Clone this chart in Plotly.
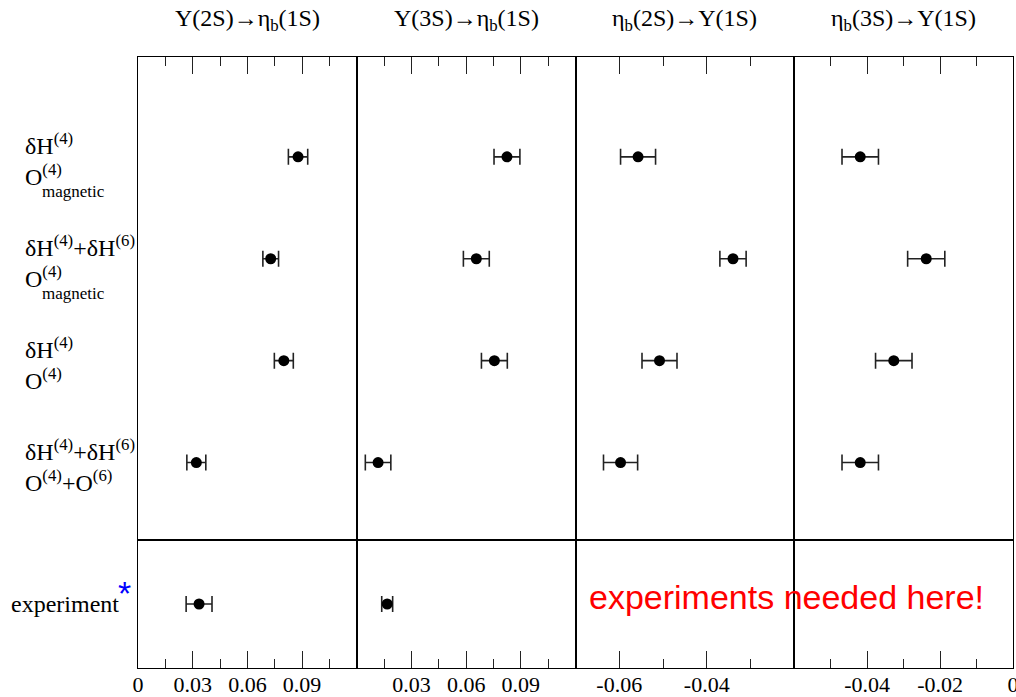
import plotly.graph_objects as go
from plotly.subplots import make_subplots

# ---------------- data ----------------
titles = ["Υ(2S)→η<sub>b</sub>(1S)", "Υ(3S)→η<sub>b</sub>(1S)",
          "η<sub>b</sub>(2S)→Υ(1S)", "η<sub>b</sub>(3S)→Υ(1S)"]

row_pos = [4, 3, 2, 1]  # top to bottom

val_c1 = [0.0878, 0.0728, 0.0800, 0.0320]
err_c1 = [0.0053, 0.0043, 0.0052, 0.0052]
val_c2 = [0.0824, 0.0656, 0.0755, 0.0117]
err_c2 = [0.0071, 0.0071, 0.0071, 0.0070]
val_c3 = [-0.0557, -0.0340, -0.0508, -0.0597]
err_c3 = [0.0040, 0.0030, 0.0040, 0.0039]
val_c4 = [-0.0419, -0.0238, -0.0327, -0.0419]
err_c4 = [0.0050, 0.0051, 0.0050, 0.0050]

exp_val = [0.0335, 0.0167]
exp_err = [0.0071, 0.0030]

x_ranges = [[0, 0.12], [0, 0.12], [-0.07, -0.02], [-0.06, 0.0]]
tick_vals = [[0, 0.03, 0.06, 0.09], [0.03, 0.06, 0.09], [-0.06, -0.04], [-0.04, -0.02, 0]]
tick_text = [["0", "0.03", "0.06", "0.09"], ["0.03", "0.06", "0.09"], ["-0.06", "-0.04"],
             ["-0.04", "-0.02", "0"]]
minor_dtick = [0.015, 0.015, 0.01, 0.01]

label_line1 = ["δH<sup>(4)</sup>", "δH<sup>(4)</sup>+δH<sup>(6)</sup>",
               "δH<sup>(4)</sup>", "δH<sup>(4)</sup>+δH<sup>(6)</sup>"]
label_line2 = ["O<sup>(4)</sup>", "O<sup>(4)</sup>", "O<sup>(4)</sup>",
               "O<sup>(4)</sup>+O<sup>(6)</sup>"]
label_sub = ["magnetic", "magnetic", "", ""]

# ---------------- figure ----------------
W, H = 1016, 697
L, R, T, B = 138, 3, 57, 29
PW = W - L - R

def px_x(px):
    return (px - L) / PW

fig = make_subplots(rows=2, cols=4, horizontal_spacing=0, vertical_spacing=0,
                    row_heights=[0.7905, 0.2095])

serif = "Liberation Serif"
err_style = dict(type="data", color="#222222", thickness=1.6, width=8)
mk = dict(color="black", size=11)

theory = [(val_c1, err_c1), (val_c2, err_c2), (val_c3, err_c3), (val_c4, err_c4)]
for c, (v, e) in enumerate(theory, start=1):
    fig.add_trace(go.Scatter(x=v, y=row_pos, mode="markers", marker=mk,
                             error_x=dict(array=e, **err_style), showlegend=False,
                             hoverinfo="skip"), row=1, col=c)
for c in range(2):
    fig.add_trace(go.Scatter(x=[exp_val[c]], y=[1], mode="markers", marker=mk,
                             error_x=dict(array=[exp_err[c]], **err_style), showlegend=False,
                             hoverinfo="skip"), row=2, col=c + 1)
# empty traces so the experiment-row frames of columns 3 and 4 are drawn
for c in (3, 4):
    fig.add_trace(go.Scatter(x=[None], y=[None], mode="markers", showlegend=False,
                             hoverinfo="skip"), row=2, col=c)

for c in range(4):
    common = dict(range=x_ranges[c], showgrid=False, zeroline=False, showline=True,
                  linecolor="black", linewidth=1.2, mirror=True, ticks="inside",
                  ticklen=17, tickwidth=1.4, tickcolor="#222222",
                  tickvals=tick_vals[c], ticktext=tick_text[c],
                  minor=dict(ticks="inside", ticklen=9, tickwidth=1.4, tickcolor="#222222",
                             dtick=minor_dtick[c], tick0=0, showgrid=False),
                  fixedrange=True, automargin=False)
    fig.update_xaxes(side="top", showticklabels=False, row=1, col=c + 1, **common)
    fig.update_xaxes(showticklabels=True, tickfont=dict(family=serif, size=22, color="black"),
                     ticklabeloverflow="allow", ticklabelstandoff=-4,
                     row=2, col=c + 1, **common)
    yc = dict(showgrid=False, zeroline=False, showline=True, linecolor="black",
              linewidth=1.2, mirror=True, showticklabels=False, ticks="",
              fixedrange=True, automargin=False)
    fig.update_yaxes(range=[0.24, 4.98], row=1, col=c + 1, **yc)
    fig.update_yaxes(range=[0, 2], row=2, col=c + 1, **yc)

ann = []
# column titles
for c in range(4):
    ann.append(dict(text=titles[c], xref="paper", yref="paper", x=(c + 0.5) / 4, y=1,
                    yshift=37, xanchor="center", yanchor="middle", showarrow=False,
                    font=dict(family=serif, size=24, color="black")))
# row labels
for i, yv in enumerate(row_pos):
    ann.append(dict(text=label_line1[i], xref="paper", yref="y", x=px_x(23), y=yv,
                    yshift=13, xanchor="left", yanchor="middle", showarrow=False,
                    font=dict(family=serif, size=24, color="black")))
    ann.append(dict(text=label_line2[i], xref="paper", yref="y", x=px_x(23), y=yv,
                    yshift=-18, xanchor="left", yanchor="middle", showarrow=False,
                    font=dict(family=serif, size=24, color="black")))
    if label_sub[i]:
        ann.append(dict(text=label_sub[i], xref="paper", yref="y", x=px_x(40), y=yv,
                        yshift=-35, xanchor="left", yanchor="middle", showarrow=False,
                        font=dict(family=serif, size=17, color="black")))
# experiment label
ann.append(dict(text="experiment", xref="paper", yref="y5", x=px_x(121), y=1,
                xanchor="right", yanchor="middle", showarrow=False,
                font=dict(family=serif, size=24, color="black")))
ann.append(dict(text="*", xref="paper", yref="y5", x=px_x(124.5), y=1, yshift=11,
                xanchor="center", yanchor="middle", showarrow=False,
                font=dict(family="Liberation Sans", size=34, color="#0000ff")))
ann.append(dict(text="experiments needed here!", xref="paper", yref="y5", x=px_x(786), y=1,
                yshift=7, xanchor="center", yanchor="middle", showarrow=False,
                font=dict(family="Liberation Sans", size=34, color="#ff0000")))

fig.update_layout(width=W, height=H, margin=dict(l=L, r=R, t=T, b=B, autoexpand=False),
                  paper_bgcolor="white", plot_bgcolor="white", annotations=ann,
                  showlegend=False)

fig.write_html("out.html", config={"displayModeBar": False},
               post_script="document.body.style.margin='0';document.body.style.overflow='hidden';")
